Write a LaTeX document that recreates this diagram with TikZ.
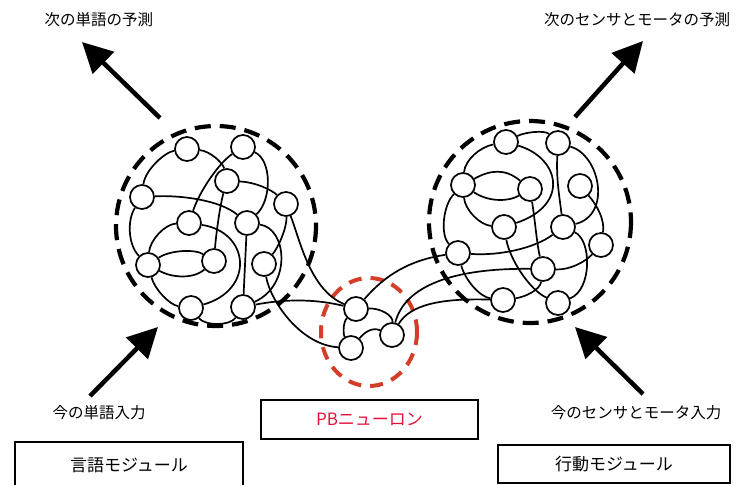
\documentclass[tikz,border=0pt]{standalone}
\usepackage{fontspec}
\newfontfamily\jp{Noto Sans CJK JP}
\usetikzlibrary{arrows.meta}
\definecolor{ringred}{RGB}{212,62,40}
\definecolor{pbred}{RGB}{226,20,60}
\begin{document}
\begin{tikzpicture}[x=1pt,y=-1pt,
  neuron/.style={circle,draw,line width=1.7pt,minimum size=24pt,inner sep=0pt,fill=white},
  wire/.style={line width=1.7pt},
  module/.style={dash pattern=on 16pt off 9pt,line width=4.2pt},
  pbring/.style={dash pattern=on 13pt off 9pt,line width=4pt,draw=ringred},
  bigarrow/.style={line width=4.5pt,-{Triangle[length=30pt,width=30pt]}},
  label/.style={font=\jp\fontsize{15.5}{18}\selectfont,inner sep=0pt},
  boxlabel/.style={draw,line width=1.8pt,inner sep=0pt,font=\jp\fontsize{17}{20}\selectfont}]
\useasboundingbox (0,0) rectangle (740,485);
\clip (0,0) rectangle (740,485);

% module rings
\draw[module] (216,226) circle[radius=100];
\draw[module] (530,222) circle[radius=101];
\draw[pbring] (369,332) ellipse[x radius=48, y radius=54];

% left cluster nodes
\node[neuron] (A) at (187,149) {};
\node[neuron] (B) at (243,147) {};
\node[neuron] (C) at (227,181) {};
\node[neuron] (D) at (142,197) {};
\node[neuron] (E) at (286,204) {};
\node[neuron] (F) at (189,223) {};
\node[neuron] (G) at (247,223) {};
\node[neuron] (H) at (148,265) {};
\node[neuron] (I) at (214,261) {};
\node[neuron] (J) at (264,264) {};
\node[neuron] (K) at (191,308) {};
\node[neuron] (L) at (243,307) {};
% PB neurons
\node[neuron] (M1) at (356,309) {};
\node[neuron] (M2) at (351,348) {};
\node[neuron] (M3) at (392,335) {};
% right cluster nodes
\node[neuron] (ra) at (506,142) {};
\node[neuron] (rb) at (558,143) {};
\node[neuron] (rc) at (463,185) {};
\node[neuron] (rd) at (530,189) {};
\node[neuron] (re) at (580,186) {};
\node[neuron] (rf) at (504,227) {};
\node[neuron] (rg) at (563,227) {};
\node[neuron] (rh) at (458,253) {};
\node[neuron] (ri) at (601,245) {};
\node[neuron] (rj) at (543,269) {};
\node[neuron] (rk) at (503,300) {};
\node[neuron] (rl) at (558,303) {};

% left cluster wires
\draw[wire] (A) .. controls (165,152) and (145,170) .. (D);
\draw[wire] (A) .. controls (210,151) and (223,163) .. (C);
\draw[wire] (B) .. controls (220,162) and (200,190) .. (F);
\draw[wire] (B) .. controls (272,160) and (272,200) .. (G);
\draw[wire] (C) .. controls (255,182) and (272,190) .. (E);
\draw[wire] (C) .. controls (220,205) and (216,235) .. (I);
\draw[wire] (D) .. controls (180,195) and (220,200) .. (G);
\draw[wire] (D) .. controls (127,220) and (128,245) .. (H);
\draw[wire] (F) .. controls (165,224) and (150,240) .. (H);
\draw[wire] (H) .. controls (170,250) and (195,249) .. (I);
\draw[wire] (H) .. controls (175,279) and (195,278) .. (I);
\draw[wire] (H) .. controls (155,290) and (170,305) .. (K);
\draw[wire] (F) .. controls (250,232) and (255,290) .. (K);
\draw[wire] (G) -- (L);
\draw[wire] (G) .. controls (287,228) and (292,285) .. (L);
\draw[wire] (E) .. controls (287,228) and (278,248) .. (J);
\draw[wire] (K) .. controls (205,326) and (230,326) .. (L);
% links to PB
\draw[wire] (L) .. controls (290,298) and (320,300) .. (M1);
\draw[wire] (E) .. controls (300,240) and (310,290) .. (M1);
\draw[wire] (J) .. controls (270,300) and (300,345) .. (M2);
\draw[wire] (M1) .. controls (343,322) and (343,334) .. (M2);
\draw[wire] (M1) .. controls (380,308) and (393,315) .. (M3);
\draw[wire] (M2) .. controls (365,332) and (372,327) .. (M3);
\draw[wire] (M1) .. controls (385,275) and (410,260) .. (rh);
\draw[wire] (M3) .. controls (405,285) and (455,268) .. (rj);
\draw[wire] (M3) .. controls (410,305) and (440,298) .. (rk);

% right cluster wires
\draw[wire] (ra) .. controls (480,147) and (465,160) .. (rc);
\draw[wire] (ra) .. controls (525,132) and (545,130) .. (rb);
\draw[wire] (ra) .. controls (560,158) and (570,205) .. (rf);
\draw[wire] (rb) .. controls (556,180) and (560,200) .. (rg);
\draw[wire] (rb) .. controls (600,155) and (612,215) .. (rg);
\draw[wire] (rc) .. controls (490,170) and (505,168) .. (rd);
\draw[wire] (rc) .. controls (490,203) and (510,201) .. (rd);
\draw[wire] (rc) .. controls (465,210) and (480,225) .. (rf);
\draw[wire] (rc) .. controls (443,205) and (440,235) .. (rh);
\draw[wire] (rd) .. controls (535,220) and (537,245) .. (rj);
\draw[wire] (rf) .. controls (510,260) and (530,290) .. (rl);
\draw[wire] (re) .. controls (597,205) and (605,220) .. (ri);
\draw[wire] (rh) .. controls (500,256) and (535,248) .. (rg);
\draw[wire] (rh) .. controls (465,280) and (480,297) .. (rk);
\draw[wire] (rj) .. controls (570,270) and (585,262) .. (ri);
\draw[wire] (rk) .. controls (525,297) and (540,290) .. (rj);
\draw[wire] (rg) .. controls (592,240) and (592,290) .. (rl);

% arrows
\coordinate (tlS) at (160,118);
\coordinate (tlE) at (82,42);
\coordinate (trS) at (575,117);
\coordinate (trE) at (643,41);
\coordinate (blS) at (90,396);
\coordinate (blE) at (158,327);
\coordinate (brS) at (643,394);
\coordinate (brE) at (575,327);
\draw[bigarrow] (tlS) -- (tlE);
\draw[bigarrow] (trS) -- (trE);
\draw[bigarrow] (blS) -- (blE);
\draw[bigarrow] (brS) -- (brE);

% labels
\node[label] (t1) at (99,20) {次の単語の予測};
\node[label] (t2) at (637,20) {次のセンサとモータの予測};
\node[label] (t3) at (99,413) {今の単語入力};
\node[label] (t4) at (636,413) {今のセンサとモータ入力};

% boxes
\node[boxlabel,minimum width=217pt,minimum height=39pt,text=pbred] (pb) at (369.5,419.5) {PBニューロン};
\node[boxlabel,minimum width=228pt,minimum height=46pt] (lang) at (129,465) {言語モジュール};
\node[boxlabel,minimum width=232pt,minimum height=38pt] (act) at (614,464) {行動モジュール};
\end{tikzpicture}
\end{document}
